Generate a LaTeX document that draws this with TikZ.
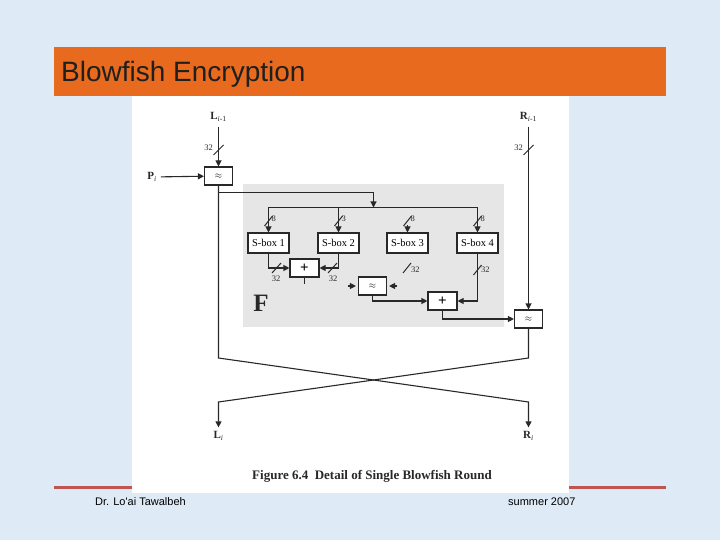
\documentclass[tikz,border=0pt]{standalone}
\usepackage{fontspec}
\setmainfont{Liberation Serif}
\newfontfamily\arial{Liberation Sans}
\usetikzlibrary{arrows.meta}
\definecolor{bgblue}{RGB}{222,234,246}
\definecolor{barorange}{RGB}{232,106,30}
\definecolor{redline}{RGB}{192,84,80}
\definecolor{fgray}{RGB}{230,230,230}
\definecolor{lc}{RGB}{40,40,40}
\begin{document}
\begin{tikzpicture}[x=1pt,y=-1pt,
  ln/.style={draw=lc, line width=1.1pt},
  arr/.style={ln,-{Triangle[length=6pt,width=6pt]}},
  bx/.style={draw=lc, fill=white, line width=1.1pt, minimum width=28pt, minimum height=18pt, inner sep=0pt, font=\fontsize{9}{9}\selectfont},
  sbox/.style={bx, minimum width=41pt, minimum height=20pt, font=\fontsize{10.5}{10.5}\selectfont},
  plus/.style={bx, minimum width=29pt, font=\bfseries\fontsize{15}{15}\selectfont},
  lab/.style={font=\fontsize{8.5}{8.5}\selectfont, inner sep=0pt, text=lc},
  io/.style={font=\fontsize{11}{11}\selectfont, inner sep=1pt, text=lc},
  sl/.style={draw=lc, line width=1pt}]
\useasboundingbox (0,0) rectangle (720,540);
\fill[bgblue] (0,0) rectangle (720,540);
\fill[barorange] (54,47) rectangle (666,96);
\node[anchor=base west, font=\arial\fontsize{28}{28}\selectfont, text=black!88, inner sep=0pt] (title) at (61,82) {Blowfish Encryption};
\draw[redline, line width=3pt] (54,487) -- (666,487);
\fill[white] (132,96) rectangle (569,493);
\fill[fgray] (243,184) rectangle (504,327);
\node[anchor=base west, font=\arial\fontsize{11}{11}\selectfont, inner sep=0pt] (auth) at (95,505) {Dr. Lo'ai Tawalbeh};
\node[anchor=base west, font=\arial\fontsize{11}{11}\selectfont, inner sep=0pt] (date) at (508,505) {summer 2007};

% inputs
\node[io] (Lin) at (218.5,117) {\textbf{L}\textsubscript{\textit{i}-1}};
\node[io] (Rin) at (528.5,117) {\textbf{R}\textsubscript{\textit{i}-1}};
\node[io] (Pi) at (152,177) {\textbf{P}\textsubscript{\textit{i}}};
\node[bx] (x1) at (218.5,176) {$\approx$};
\node[bx] (x2) at (528.5,319) {$\approx$};

\draw[arr, shorten <=4pt] (Lin) -- (x1);
\draw[arr, shorten <=4pt] (Rin) -- (x2);
\draw[arr, shorten <=3pt] (Pi) -- (x1);
\draw[sl] (213.5,155) -- (223.5,145);
\node[lab, anchor=east] (l32a) at (213,148) {32};
\draw[sl] (523.5,155) -- (533.5,145);
\node[lab, anchor=east] (l32b) at (523,148) {32};

% F
\node[font=\bfseries\fontsize{25}{25}\selectfont, text=lc] (F) at (261,303) {F};
\node[sbox] (s1) at (268.5,243) {S-box 1};
\node[sbox] (s2) at (338.5,243) {S-box 2};
\node[sbox] (s3) at (407.5,243) {S-box 3};
\node[sbox] (s4) at (477.5,243) {S-box 4};
\node[plus] (p1) at (304.5,268) {+};
\node[plus] (p2) at (442.5,301) {+};
\node[bx] (x3) at (372.5,286) {$\approx$};

\coordinate (b0) at (218.5,192.5);
\coordinate (b1) at (373.5,207.5);
\draw[ln] (b0) -| (373.5,202);
\draw[arr] (373.5,195) -- (b1);
\draw[ln] (s1.north |- b1) -- (s4.north |- b1);
\draw[arr] (s1.north |- b1) -- (s1.north);
\draw[arr] (s2.north |- b1) -- (s2.north);
\draw[arr] (s4.north |- b1) -- (s4.north);
\draw[arr] ([yshift=7pt]s3.north) -- (s3.north);
\foreach \xx/\tt in {268.5/8,338.5/3,407.5/8,477.5/8}{
  \draw[sl] (\xx-4,226) -- (\xx+4,216);
  \node[lab, anchor=west] at (\xx+3,219) {\tt};
}

\draw[arr] (s1.south) |- (p1.west);
\draw[arr] (s2.south) |- (p1.east);
\draw[sl] (272,273) -- (281,263);
\node[lab] at (276,279) {32};
\draw[sl] (328,273) -- (337,263);
\node[lab] at (333,279) {32};
\draw[ln] (p1.south) -- ++(0,6);

\draw[sl] (403,273) -- (411,263);
\node[lab, anchor=west] at (411,270) {32};
\draw[arr] (s4.south) |- (p2.east);
\draw[sl] (473.5,275) -- (481.5,265);
\node[lab, anchor=west] at (481,270) {32};

\draw[arr] ([xshift=-10pt]x3.west) -- ([xshift=-2pt]x3.west);
\draw[arr] ([xshift=10pt]x3.east) -- ([xshift=2pt]x3.east);
\draw[arr] (x3.south) |- (p2.west);
\draw[arr] (p2.south) |- (x2.west);

% swap
\node[io] (Lout) at (218.5,436) {\textbf{L}\textsubscript{\textit{i}}};
\node[io] (Rout) at (528.5,436) {\textbf{R}\textsubscript{\textit{i}}};
\draw[arr, shorten >=3pt] (x1.south) -- (218.5,358) -- (528.5,402) -- (Rout.north);
\draw[arr, shorten >=3pt] (x2.south) -- (528.5,358) -- (218.5,402) -- (Lout.north);

\node[font=\bfseries\fontsize{13}{13}\selectfont, text=lc] (cap) at (372,476) {Figure 6.4\ \ Detail of Single Blowfish Round};
\end{tikzpicture}
\end{document}
